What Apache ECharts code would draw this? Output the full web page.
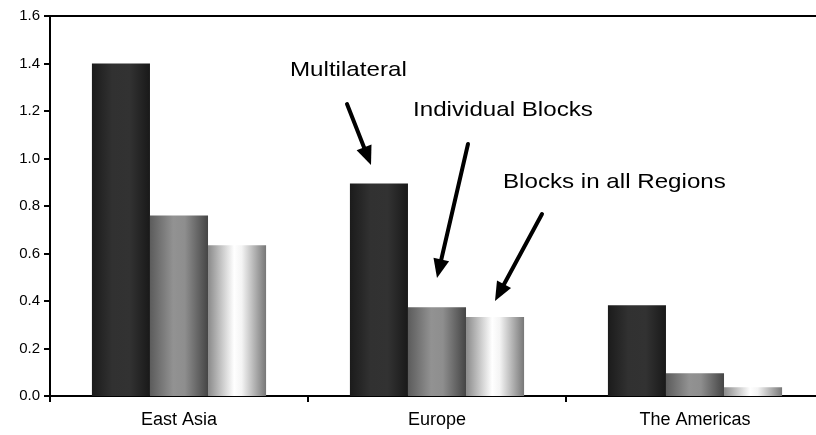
<!DOCTYPE html>
<html>
<head>
<meta charset="utf-8">
<script src="https://cdn.jsdelivr.net/npm/echarts@6/dist/echarts.min.js"></script>
<style>
  html, body { margin: 0; padding: 0; background: #fff; }
  #chart { width: 816px; height: 435px; }
</style>
</head>
<body>
<div id="chart"></div>
<script>
// Regions on the horizontal axis
const regions = ['East Asia', 'Europe', 'The Americas'];

// One value per region for each scenario
const multilateral = [1.40, 0.895, 0.382];
const individualBlocks = [0.76, 0.374, 0.096];
const blocksAllRegions = [0.635, 0.333, 0.037];

// Scenario names, used for the callouts
const seriesNames = ['Multilateral', 'Individual Blocks', 'Blocks in all Regions'];

// Value axis ticks
const yTicks = [0.0, 0.2, 0.4, 0.6, 0.8, 1.0, 1.2, 1.4, 1.6];

const FONT = 'Liberation Sans, Arial, sans-serif';

// Cylinder-like horizontal shading for each scenario
function shade(stops) {
  return {
    type: 'linear', x: 0, y: 0, x2: 1, y2: 0,
    colorStops: stops.map(s => ({ offset: s[0], color: s[1] }))
  };
}
const fills = [
  shade([[0, '#1b1b1b'], [0.35, '#313131'], [0.65, '#323232'], [1, '#191919']]),
  shade([[0, '#5c5c5c'], [0.4, '#929292'], [0.6, '#8e8e8e'], [1, '#454545']]),
  shade([[0, '#8a8a8a'], [0.45, '#ffffff'], [0.58, '#f4f4f4'], [1, '#777777']])
];

const values = [multilateral, individualBlocks, blocksAllRegions];

const chart = echarts.init(document.getElementById('chart'), null, { renderer: 'canvas' });

// Arrow from (x1,y1) to tip (x2,y2): shaft plus filled head
function arrow(x1, y1, x2, y2) {
  const dx = x2 - x1, dy = y2 - y1;
  const len = Math.sqrt(dx * dx + dy * dy);
  const ux = dx / len, uy = dy / len;
  const headLen = 19, headHalf = 8;
  const bx = x2 - ux * headLen, by = y2 - uy * headLen;
  const px = -uy, py = ux;
  return [
    {
      type: 'line',
      shape: { x1: x1, y1: y1, x2: bx + ux * 2, y2: by + uy * 2 },
      style: { stroke: '#000', lineWidth: 4, lineCap: 'round' }
    },
    {
      type: 'polygon',
      shape: { points: [[x2, y2], [bx + px * headHalf, by + py * headHalf], [bx - px * headHalf, by - py * headHalf]] },
      style: { fill: '#000' }
    }
  ];
}

// Callout text, slightly widened
function label(text, x, y) {
  return {
    type: 'text', x: x, y: y, scaleX: 1.15,
    style: { text: text, font: '21px ' + FONT, fill: '#000', verticalAlign: 'middle' }
  };
}

chart.setOption({
  animation: false,
  backgroundColor: '#fff',
  grid: { left: 50, top: 16, width: 774, height: 380, outerBoundsMode: 'none', containLabel: false },
  xAxis: [
    {
      type: 'category',
      data: regions,
      axisLine: { lineStyle: { color: '#000', width: 2 } },
      axisTick: { show: true, length: 6, lineStyle: { color: '#000', width: 2 } },
      axisLabel: { color: '#000', fontFamily: FONT, fontSize: 18, margin: 15 }
    },
    {
      type: 'category',
      data: regions,
      position: 'top',
      axisLine: { lineStyle: { color: '#000', width: 2 } },
      axisTick: { show: false },
      axisLabel: { show: false }
    }
  ],
  yAxis: {
    type: 'value',
    min: yTicks[0],
    max: yTicks[yTicks.length - 1],
    interval: 0.2,
    axisLine: { show: true, lineStyle: { color: '#000', width: 2 } },
    axisTick: { show: true, length: 6, lineStyle: { color: '#000', width: 2 } },
    splitLine: { show: false },
    axisLabel: {
      color: '#000', fontFamily: FONT, fontSize: 15, margin: 10,
      formatter: v => v.toFixed(1)
    }
  },
  series: values.map((vals, i) => ({
    name: seriesNames[i],
    type: 'bar',
    data: vals,
    barGap: '0%',
    barCategoryGap: '32.5%',
    itemStyle: { color: fills[i] }
  })),
  graphic: [
    label(seriesNames[0], 290, 70),
    label(seriesNames[1], 413, 110),
    label(seriesNames[2], 503, 182),
    ...arrow(347, 104, 371, 165),
    ...arrow(468, 144, 437, 278),
    ...arrow(542, 214, 495, 301)
  ]
});
</script>
</body>
</html>
